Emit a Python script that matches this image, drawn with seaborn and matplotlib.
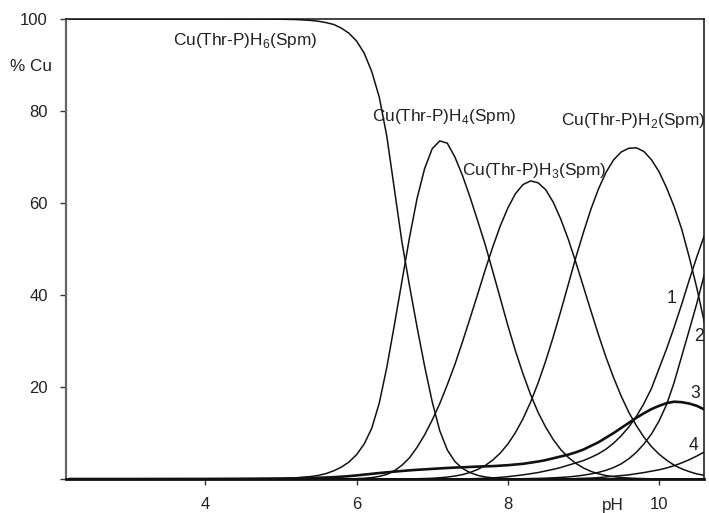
import matplotlib
matplotlib.use("Agg")
import matplotlib.pyplot as plt
import seaborn as sns
import pandas as pd

# ---------------- data ----------------
ph = ([2.2, 3.0, 4.0, 4.5, 5.0, 5.2, 5.4] +
      [5.5, 5.6, 5.7, 5.8, 5.9, 6.0, 6.1, 6.2, 6.3, 6.4,
       6.5, 6.6, 6.7, 6.8, 6.9, 7.0, 7.1, 7.2, 7.3, 7.4,
       7.5, 7.6, 7.7, 7.8, 7.9, 8.0, 8.1, 8.2, 8.3, 8.4,
       8.5, 8.6, 8.7, 8.8, 8.9, 9.0, 9.1, 9.2, 9.3, 9.4,
       9.5, 9.6, 9.7, 9.8, 9.9, 10.0, 10.1, 10.2, 10.3, 10.4,
       10.5, 10.6])

cu_h6 = ([100, 100, 100, 99.99, 99.95, 99.88, 99.69] +
         [99.5, 99.2, 98.8, 98.0, 96.9, 95.2, 92.6, 88.6, 83.0, 74.5] +
         [63.0, 51.5, 42.0, 33.0, 24.5, 16.8, 10.5, 6.3, 3.8, 2.3] +
         [1.4, 0.8, 0.45, 0.25, 0.13, 0.07, 0.04, 0.02, 0.01, 0] +
         [0] * 10 + [0] * 10 + [0, 0])

cu_h4 = ([0, 0, 0, 0.02, 0.1, 0.25, 0.55] +
         [0.8, 1.2, 1.8, 2.6, 3.7, 5.3, 7.6, 11.0, 16.5, 24.3] +
         [33.5, 43.0, 52.5, 61.0, 67.5, 71.8, 73.5, 73.0, 70.0, 66.0] +
         [61.3, 56.2, 51.0, 45.2, 39.3, 33.4, 27.9, 22.9, 18.4, 14.5] +
         [11.3, 8.6, 6.4, 4.7, 3.4, 2.4, 1.65, 1.12, 0.75, 0.5] +
         [0.32, 0.21, 0.13, 0.08, 0.05, 0.03, 0.02, 0.01, 0.01, 0] +
         [0, 0])

cu_h3 = ([0] * 7 +
         [0, 0.01, 0.01, 0.02, 0.04, 0.08, 0.16, 0.3, 0.57, 1.0] +
         [1.8, 3.0, 4.6, 6.9, 9.6, 12.8, 16.4, 20.5, 24.9, 29.8] +
         [34.9, 40.1, 45.4, 50.4, 55.0, 58.9, 62.0, 64.0, 64.8, 64.4] +
         [62.9, 60.2, 56.5, 52.1, 47.1, 41.8, 36.5, 31.3, 26.4, 22.0] +
         [18.0, 14.5, 11.6, 9.1, 7.05, 5.4, 4.1, 3.0, 2.2, 1.6] +
         [1.1, 0.8])

cu_h2 = ([0] * 7 + [0] * 10 +
         [0.01, 0.02, 0.03, 0.06, 0.1, 0.16, 0.27, 0.42, 0.64, 0.96] +
         [1.42, 2.06, 2.93, 4.1, 5.63, 7.59, 10.06, 13.07, 16.66, 20.85] +
         [25.6, 30.85, 36.47, 42.31, 48.18, 53.6, 58.7, 63.1, 66.7, 69.4] +
         [71.1, 71.9, 72.0, 71.2, 69.4, 66.8, 63.3, 59.2, 54.3, 48.2] +
         [41.5, 34.0])

sp_1 = ([0] * 7 + [0] * 10 + [0] * 10 +
        [0.05, 0.1, 0.17, 0.25, 0.36, 0.5, 0.7, 0.9, 1.15, 1.4] +
        [1.75, 2.1, 2.5, 3.0, 3.5, 4.0, 4.7, 5.5, 6.5, 7.8] +
        [9.4, 11.3, 13.6, 16.4, 19.7, 24.0, 28.3, 33.0, 38.0, 43.3] +
        [48.3, 53.0])

sp_2 = ([0] * 7 + [0] * 10 + [0] * 10 +
        [0, 0, 0, 0, 0, 0.02, 0.04, 0.06, 0.1, 0.13] +
        [0.18, 0.25, 0.34, 0.45, 0.62, 0.83, 1.1, 1.45, 1.9, 2.5] +
        [3.3, 4.4, 5.8, 7.6, 9.8, 12.6, 16.2, 21.0, 26.7, 32.4] +
        [38.2, 44.5])

sp_3 = ([0, 0, 0.02, 0.05, 0.1, 0.15, 0.22] +
        [0.27, 0.33, 0.4, 0.5, 0.62, 0.78, 0.95, 1.12, 1.3, 1.45] +
        [1.6, 1.75, 1.88, 2.0, 2.1, 2.2, 2.3, 2.4, 2.48, 2.55] +
        [2.62, 2.7, 2.75, 2.8, 2.9, 3.0, 3.15, 3.3, 3.55, 3.8] +
        [4.1, 4.5, 4.9, 5.3, 5.8, 6.4, 7.2, 8.0, 9.0, 10.0] +
        [11.1, 12.2, 13.3, 14.3, 15.2, 15.9, 16.5, 16.8, 16.7, 16.4] +
        [15.9, 15.1])

sp_4 = ([0] * 7 + [0] * 10 + [0] * 10 + [0] * 10 +
        [0, 0, 0, 0, 0.1, 0.15, 0.2, 0.3, 0.45, 0.6] +
        [0.75, 0.9, 1.15, 1.4, 1.7, 2.0, 2.4, 2.9, 3.5, 4.2] +
        [5.0, 5.9])

series = {"H6": cu_h6, "H4": cu_h4, "H3": cu_h3, "H2": cu_h2,
          "1": sp_1, "2": sp_2, "3": sp_3, "4": sp_4}

species_labels = [r"Cu(Thr-P)H$_{\mathregular{6}}$(Spm)",
                  r"Cu(Thr-P)H$_{\mathregular{4}}$(Spm)",
                  r"Cu(Thr-P)H$_{\mathregular{3}}$(Spm)",
                  r"Cu(Thr-P)H$_{\mathregular{2}}$(Spm)"]
species_label_pos = [(3.57, 94.3), (6.21, 77.9), (7.40, 66.1), (8.71, 77.0)]
number_labels = ["1", "2", "3", "4"]
number_label_pos = [(10.16, 38.3), (10.53, 30.1), (10.475, 17.5), (10.45, 6.3)]

y_ticks = [0, 20, 40, 60, 80, 100]
y_ticklabels = ["", "20", "40", "60", "80", "100"]
x_ticks = [4, 6, 8, 10]

# ---------------- plotting ----------------
sns.set_style("ticks")
plt.rcParams["font.family"] = ["Liberation Sans", "DejaVu Sans"]
plt.rcParams["mathtext.fontset"] = "custom"
plt.rcParams["mathtext.rm"] = "Liberation Sans"

fig = plt.figure(figsize=(7.09, 5.13), dpi=100)
ax = fig.add_axes([66 / 709, 34 / 513, 637.5 / 709, 460 / 513])

rows = []
for name, vals in series.items():
    for x, y in zip(ph, vals):
        rows.append({"pH": x, "pct": y, "species": name})
df = pd.DataFrame(rows)

for name in series:
    sub = df[df["species"] == name]
    lw = 1.9 if name == "3" else 1.1
    sns.lineplot(data=sub, x="pH", y="pct", ax=ax, color="#111111",
                 linewidth=lw, estimator=None, sort=False, legend=False)

ax.set_xlim(2.157, 10.588)
ax.set_ylim(0, 100)
ax.set_xticks(x_ticks)
ax.set_xticklabels([str(t) for t in x_ticks])
ax.set_yticks(y_ticks)
ax.set_yticklabels(y_ticklabels)
ax.set_xlabel("")
ax.set_ylabel("")

ax.tick_params(axis="both", direction="out", length=4.5, width=1.0,
               pad=8.5, labelsize=12, colors="#333333", labelcolor="#222222")

for s in ["top", "right"]:
    ax.spines[s].set_color("#111111")
    ax.spines[s].set_linewidth(1.1)
ax.spines["left"].set_color("#666666")
ax.spines["left"].set_linewidth(1.6)
ax.spines["bottom"].set_color("#111111")
ax.spines["bottom"].set_linewidth(2.0)

for txt, (x, y) in zip(species_labels, species_label_pos):
    ax.text(x, y, txt, ha="left", va="baseline", fontsize=12.4, color="#222222")
for txt, (x, y) in zip(number_labels, number_label_pos):
    ax.text(x, y, txt, ha="center", va="baseline", fontsize=12.7, color="#222222")

fig.text(31 / 709, 1 - 66.7 / 513, "% Cu", ha="center", va="center",
         fontsize=12.3, color="#222222")
fig.text(613.3 / 709, 1 - 510 / 513, "pH", ha="center", va="baseline",
         fontsize=12.3, color="#222222")

fig.savefig("out.png", dpi=100)
